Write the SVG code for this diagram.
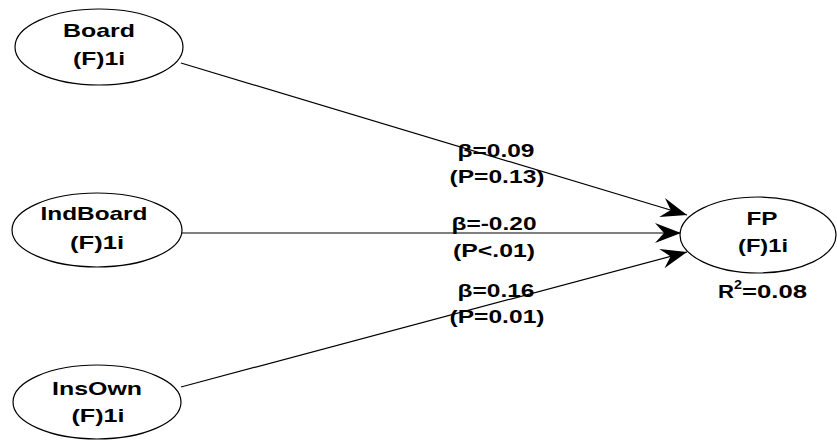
<svg xmlns="http://www.w3.org/2000/svg" width="837" height="440" viewBox="0 0 837 440">
<style>
.node ellipse{fill:#fff;stroke:#000;stroke-width:1.2}
text{font-family:"Liberation Sans",Arial,sans-serif;font-weight:bold;font-size:19px;fill:#000;text-anchor:middle}
text.st{text-anchor:start}
text.sup{font-size:12px}
.edge{stroke:#000;stroke-width:1.2;fill:none;marker-end:url(#arr)}
</style>
<defs>
<marker id="arr" markerUnits="userSpaceOnUse" markerWidth="30" markerHeight="24" viewBox="-27 -12 30 24" refX="0" refY="0" orient="auto">
<path d="M0,0 L-26,-10 L-17,0 L-26,10 Z" fill="#000"/>
</marker>
</defs>
<g id="connectors">
<line class="edge" x1="181" y1="63" x2="687" y2="215"/>
<line class="edge" x1="181" y1="233" x2="681" y2="233"/>
<line class="edge" x1="181" y1="387" x2="687" y2="252"/>
<text x="496" y="157" textLength="77" lengthAdjust="spacingAndGlyphs">β=0.09</text>
<text x="497" y="183" textLength="95" lengthAdjust="spacingAndGlyphs">(P=0.13)</text>
<text x="494" y="230" textLength="85" lengthAdjust="spacingAndGlyphs">β=-0.20</text>
<text x="494" y="257" textLength="82" lengthAdjust="spacingAndGlyphs">(P&lt;.01)</text>
<text x="496" y="297" textLength="77" lengthAdjust="spacingAndGlyphs">β=0.16</text>
<text x="497" y="323" textLength="95" lengthAdjust="spacingAndGlyphs">(P=0.01)</text>
</g>
<g id="board" class="node">
<ellipse cx="99" cy="47" rx="84" ry="38"/>
<text x="99" y="37" textLength="72" lengthAdjust="spacingAndGlyphs">Board</text>
<text x="99" y="65" textLength="52" lengthAdjust="spacingAndGlyphs">(F)1i</text>
</g>
<g id="indboard" class="node">
<ellipse cx="97" cy="230" rx="85" ry="37"/>
<text x="94" y="220" textLength="107" lengthAdjust="spacingAndGlyphs">IndBoard</text>
<text x="97" y="249" textLength="54" lengthAdjust="spacingAndGlyphs">(F)1i</text>
</g>
<g id="insown" class="node">
<ellipse cx="97" cy="402" rx="84" ry="37"/>
<text x="97" y="395" textLength="90" lengthAdjust="spacingAndGlyphs">InsOwn</text>
<text x="98" y="422" textLength="53" lengthAdjust="spacingAndGlyphs">(F)1i</text>
</g>
<g id="fp" class="node">
<ellipse cx="758" cy="235" rx="78" ry="38"/>
<text x="762" y="225" textLength="31" lengthAdjust="spacingAndGlyphs">FP</text>
<text x="763" y="252" textLength="50" lengthAdjust="spacingAndGlyphs">(F)1i</text>
<text class="st" x="718" y="298" textLength="16" lengthAdjust="spacingAndGlyphs">R</text>
<text class="st sup" x="734" y="289" textLength="8" lengthAdjust="spacingAndGlyphs">2</text>
<text class="st" x="742" y="298" textLength="65" lengthAdjust="spacingAndGlyphs">=0.08</text>
</g>
</svg>
